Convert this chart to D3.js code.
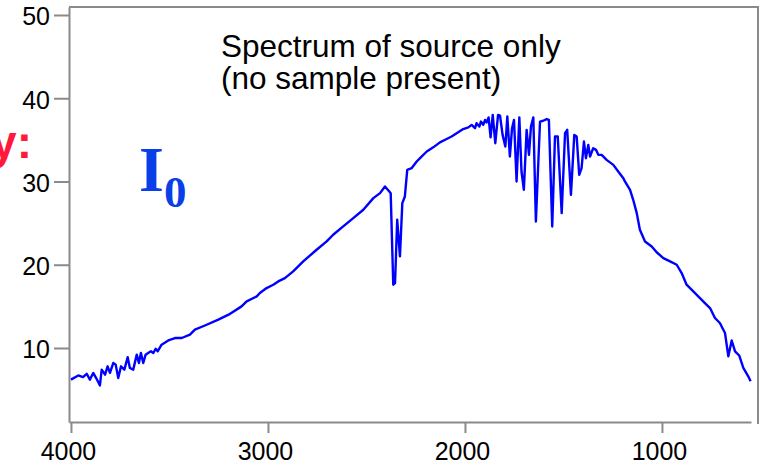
<!DOCTYPE html>
<html>
<head>
<meta charset="utf-8">
<script src="https://cdn.jsdelivr.net/npm/d3@7"></script>
<style>
  html, body { margin: 0; padding: 0; background: #fff; }
  svg { display: block; }
</style>
</head>
<body>
<svg id="chart" width="763" height="466"></svg>
<script>
// ---- data ----
const wavenumbers = [4000,3963,3939,3920,3904,3887,3870,3853,3844,3827,3814,3802,3785,3773,3760,3746,3729,3712,3701,3684,3666,3655,3645,3633,3621,3608,3594,3582,3570,3560,3540,3506,3472,3438,3396,3371,3320,3252,3200,3134,3108,3057,3041,3007,2973,2948,2914,2872,2821,2753,2702,2669,2618,2567,2516,2465,2431,2406,2384,2377,2364,2355,2344,2330,2318,2305,2293,2271,2245,2228,2194,2161,2127,2093,2068,2042,2009,1983,1966,1949,1941,1927,1919,1907,1898,1890,1880,1870,1859,1846,1832,1822,1809,1795,1785,1772,1761,1751,1738,1724,1713,1701,1687,1675,1665,1653,1640,1619,1603,1585,1574,1557,1543,1529,1509,1492,1481,1462,1445,1433,1420,1408,1396,1386,1374,1365,1349,1335,1323,1306,1281,1247,1222,1196,1188,1162,1146,1128,1112,1086,1052,1027,993,959,925,900,875,841,807,782,756,731,706,680,663,646,629,608,587,562,550];
const intensity = [6.2,6.7,6.5,6.9,6.2,7.0,6.3,5.5,7.4,6.8,7.8,7.0,8.2,8.0,6.4,7.8,7.4,8.9,7.6,7.4,9.2,8.2,9.4,8.2,9.2,9.4,9.6,9.4,9.9,9.6,10.4,10.9,11.2,11.2,11.6,12.2,12.7,13.4,14.0,15.0,15.6,16.2,16.6,17.2,17.6,18.0,18.4,19.2,20.4,21.8,22.8,23.6,24.6,25.6,26.6,28.0,28.6,29.4,28.8,28.6,17.6,17.8,25.4,21.0,27.4,28.2,31.4,31.6,32.4,32.8,33.6,34.1,34.7,35.1,35.4,35.8,36.3,36.5,36.8,36.4,37.0,36.6,37.2,36.8,37.4,37.1,37.7,35.3,38.0,34.6,38.0,37.9,35.6,34.2,37.8,33.0,36.4,37.4,30.0,37.7,31.2,29.0,36.2,33.2,36.6,37.7,25.2,37.2,37.3,37.5,37.4,24.6,35.4,35.4,26.2,35.8,36.2,28.4,35.6,35.4,30.8,31.6,34.8,32.8,34.4,33.0,34.0,33.8,33.2,33.2,32.6,32.0,31.2,30.4,30.0,29.0,27.8,26.2,24.2,22.8,22.2,21.5,20.8,20.4,20.0,19.0,17.6,16.8,16.0,15.4,14.8,13.6,13.0,11.8,9.0,10.9,9.6,9.1,7.6,6.6,6.0];
const xTicks = [4000, 3000, 2000, 1000];
const yTicks = [10, 20, 30, 40, 50];
const titleLines = ["Spectrum of source only", "(no sample present)"];
const sideLabel = "y:";

// ---- layout ----
const svg = d3.select("#chart");
const mLeft = 69, mRight = 751, mTop = 7, mBottom = 422, frameRight = 758;

const x = d3.scaleLinear().domain([4010, 548]).range([mLeft, mRight]);
const y = d3.scaleLinear().domain([1.11, 50.96]).range([mBottom, mTop]);

const gray = "#8a8a8a";
const font = "'Liberation Sans', Arial, Helvetica, sans-serif";

// frame lines (top & right)
svg.append("line").attr("x1", mLeft).attr("x2", frameRight).attr("y1", mTop).attr("y2", mTop)
  .attr("stroke", gray).attr("stroke-width", 2);
svg.append("line").attr("x1", frameRight).attr("x2", frameRight).attr("y1", mTop - 1).attr("y2", mBottom + 2)
  .attr("stroke", gray).attr("stroke-width", 2);

// x axis
const xAxis = svg.append("g").attr("transform", `translate(0,${mBottom})`)
  .call(d3.axisBottom(x).tickValues(xTicks).tickSize(11).tickSizeOuter(0).tickFormat(d3.format("d")));
xAxis.select(".domain").attr("stroke", gray).attr("stroke-width", 2);
xAxis.selectAll(".tick line").attr("stroke", gray).attr("stroke-width", 2);
xAxis.selectAll(".tick text").attr("fill", "#000").attr("font-family", font).attr("font-size", 25)
  .attr("dx", -3).attr("y", 20);

// y axis
const yAxis = svg.append("g").attr("transform", `translate(${mLeft},0)`)
  .call(d3.axisLeft(y).tickValues(yTicks).tickSize(15).tickSizeOuter(0));
yAxis.select(".domain").attr("stroke", gray).attr("stroke-width", 2);
yAxis.selectAll(".tick line").attr("stroke", gray).attr("stroke-width", 2);
yAxis.selectAll(".tick text").attr("fill", "#000").attr("font-family", font).attr("font-size", 25)
  .attr("x", -19).attr("dy", "0.40em");

// spectrum line
const pts = wavenumbers.map((w, i) => [w, intensity[i]]);
svg.append("path").datum(pts)
  .attr("fill", "none").attr("stroke", "#0000ff").attr("stroke-width", 2.4)
  .attr("stroke-linejoin", "round")
  .attr("d", d3.line().x(d => x(d[0])).y(d => y(d[1])));

// title text
const t = svg.append("text").attr("font-family", font).attr("font-size", 31.5).attr("fill", "#000");
titleLines.forEach((s, i) => {
  t.append("tspan").attr("x", 221).attr("y", 57 + i * 32).text(s);
});

// I0 label
const i0 = svg.append("text").attr("font-family", "'Liberation Serif', 'Times New Roman', serif")
  .attr("font-weight", "bold").attr("fill", "#0a3ee6").attr("x", 139).attr("y", 191);
i0.append("tspan").attr("font-size", 64).text("I");
i0.append("tspan").attr("font-size", 45).attr("dy", 16).text("0");

// red side label (partially cut off, as in the reference)
svg.append("text").attr("font-family", font).attr("font-weight", "bold").attr("font-size", 46)
  .attr("fill", "#ff1a3c").attr("text-anchor", "end").attr("x", 32).attr("y", 158).text(sideLabel);
</script>
</body>
</html>
